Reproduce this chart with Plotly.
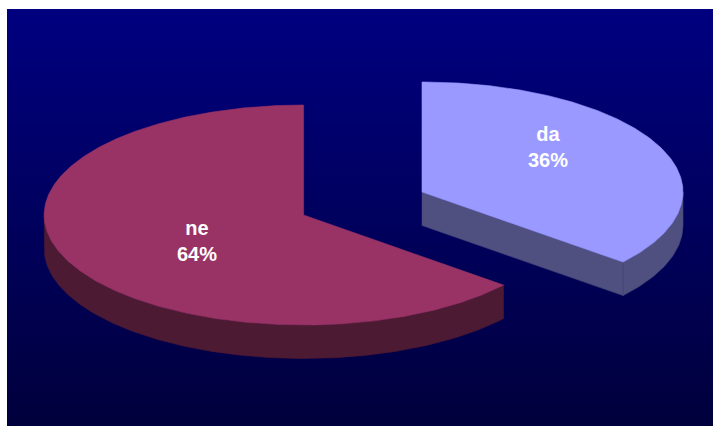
import numpy as np
import plotly.graph_objects as go

# Survey answers
categories = ["da", "ne"]
values = [36, 64]

# Slice appearance and placement on the 713x426 canvas
top_colors = ["#9999FF", "#993366"]
side_colors = ["#4F4F80", "#4D1A33"]
edge_colors = ["#46467A", "#4D1A33"]
centers = [(422.0, 192.0), (303.6, 215.0)]
radii_x = [261.0, 259.5]
label_anchors = [(548, 149), (197, 243)]
RY = 110.0
DEPTH = 33.5

total = sum(values)
fig = go.Figure()

# Backdrop panel with a vertical navy gradient
fig.add_trace(go.Scatter(
    x=[7, 713, 713, 7, 7], y=[9, 9, 426, 426, 9],
    mode="lines", line=dict(width=0), fill="toself",
    fillgradient=dict(type="vertical",
                      colorscale=[[0, "#00003C"], [1, "#000080"]]),
    hoverinfo="skip", showlegend=False,
))


def rim(center, rx, start, stop, drop=0.0):
    """Points on the ellipse rim, angles in degrees clockwise from 12 o'clock."""
    n = max(int(abs(stop - start) * 2), 2)
    t = np.radians(np.linspace(start, stop, n))
    return center[0] + rx * np.sin(t), center[1] - RY * np.cos(t) + drop


def polygon(xs, ys, fill, line_color=None):
    fig.add_trace(go.Scatter(
        x=np.append(xs, xs[0]), y=np.append(ys, ys[0]),
        mode="lines", fill="toself", fillcolor=fill,
        line=dict(color=line_color or fill, width=0.6),
        hoverinfo="skip", showlegend=False,
    ))


start = 0.0
for name, value, top, side, edge, c, rx in zip(
        categories, values, top_colors, side_colors, edge_colors, centers, radii_x):
    stop = start + 360.0 * value / total

    # Radial cut face, visible when the slice ends on the front right
    if 90 < stop < 270 and start < 90:
        ex, ey = rim(c, rx, stop, stop)
        ex, ey = ex[0], ey[0]
        polygon(np.array([c[0], ex, ex, c[0]]),
                np.array([c[1], ey, ey + DEPTH, c[1] + DEPTH]), side, edge)

    # Outer wall over the front half of the ellipse
    a, b = max(start, 90.0), min(stop, 270.0)
    if a < b:
        ux, uy = rim(c, rx, a, b)
        lx, ly = rim(c, rx, b, a, DEPTH)
        polygon(np.concatenate([ux, lx]), np.concatenate([uy, ly]), side, edge)

    # Top face of the slice
    tx, ty = rim(c, rx, start, stop)
    polygon(np.concatenate([[c[0]], tx]), np.concatenate([[c[1]], ty]), top)
    start = stop

# Slice labels
fig.add_trace(go.Scatter(
    x=[p[0] for p in label_anchors], y=[p[1] for p in label_anchors],
    mode="text",
    text=[f"{n}<br>{v}%" for n, v in zip(categories, values)],
    textposition="middle center",
    textfont=dict(family="Liberation Sans", size=20, color="white",
                  weight="bold"),
    hoverinfo="skip", showlegend=False,
))

fig.update_layout(
    width=713, height=426, autosize=False,
    margin=dict(l=0, r=0, t=0, b=0),
    paper_bgcolor="white", plot_bgcolor="white",
    xaxis=dict(range=[0, 713], visible=False, fixedrange=True),
    yaxis=dict(range=[426, 0], visible=False, fixedrange=True),
)

fig.write_html("out.html", config=dict(displayModeBar=False))
